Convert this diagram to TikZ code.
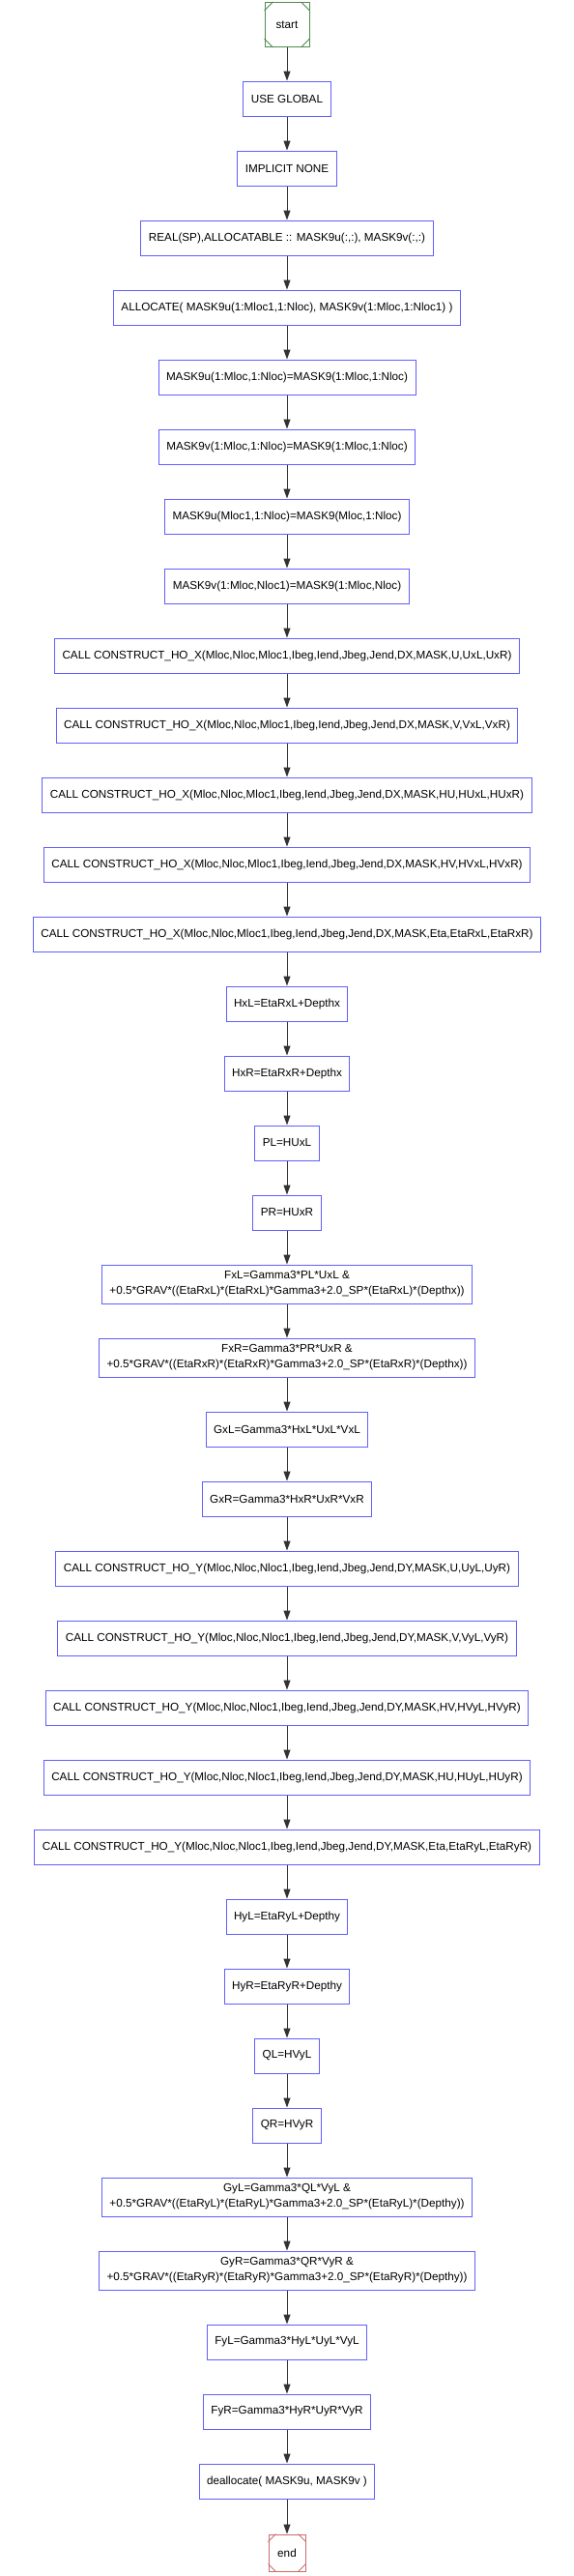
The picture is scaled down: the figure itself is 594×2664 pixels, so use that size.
\documentclass[tikz,border=0pt]{standalone}
\usepackage{fontspec}
\setmainfont{Liberation Sans}
\usetikzlibrary{calc,arrows.meta}
\definecolor{boxblue}{RGB}{96,96,255}
\definecolor{startgreen}{RGB}{80,140,80}
\definecolor{endred}{RGB}{200,110,110}
\definecolor{flowgray}{RGB}{50,50,50}
\tikzset{
	stmt/.style={draw=boxblue, line width=1pt, rectangle, minimum height=36, inner xsep=8pt, align=center},
	twoline/.style={stmt, minimum height=40},
	terminal/.style={rectangle, line width=1pt, inner sep=0pt, minimum size=#1},
	flow/.style={draw=flowgray, line width=1pt, -{Triangle[length=10pt,width=7pt]}}
}
\def\cornercuts#1#2#3{%
	\draw[#3, line width=0.8pt] ($(#1.north west)+(0,#2)$) -- ($(#1.north west)+(#2,0)$);
	\draw[#3, line width=0.8pt] ($(#1.north east)+(0,#2)$) -- ($(#1.north east)+(-#2,0)$);
	\draw[#3, line width=0.8pt] ($(#1.south west)+(0,-#2)$) -- ($(#1.south west)+(#2,0)$);
	\draw[#3, line width=0.8pt] ($(#1.south east)+(0,-#2)$) -- ($(#1.south east)+(-#2,0)$);
}

\begin{document}
\begin{tikzpicture}[x=1pt, y=-1pt, font=\fontsize{11.7}{16}\selectfont]
			%%%%% START %%%%%
			\useasboundingbox (0, 0) rectangle (594, 2664);
			
			\node[terminal=46, draw=startgreen] (start) at (297, 25.5) {start};
			\cornercuts{start}{9}{startgreen}
			
			\node[stmt] (useglobal) at (297, 102) {USE GLOBAL};
			\node[stmt] (implicit) at (297, 174) {IMPLICIT NONE};
			\node[stmt] (realsp) at (297, 246) {REAL(SP),ALLOCATABLE :: MASK9u(:,:), MASK9v(:,:)};
			\node[stmt] (alloc) at (297, 318) {ALLOCATE( MASK9u(1:Mloc1,1:Nloc), MASK9v(1:Mloc,1:Nloc1) )};
			\node[stmt] (maskua) at (297, 390) {MASK9u(1:Mloc,1:Nloc)=MASK9(1:Mloc,1:Nloc)};
			\node[stmt] (maskva) at (297, 462) {MASK9v(1:Mloc,1:Nloc)=MASK9(1:Mloc,1:Nloc)};
			\node[stmt] (maskub) at (297, 534) {MASK9u(Mloc1,1:Nloc)=MASK9(Mloc,1:Nloc)};
			\node[stmt] (maskvb) at (297, 606) {MASK9v(1:Mloc,Nloc1)=MASK9(1:Mloc,Nloc)};
			
			\node[stmt] (hoxu) at (297, 678) {CALL CONSTRUCT\_HO\_X(Mloc,Nloc,Mloc1,Ibeg,Iend,Jbeg,Jend,DX,MASK,U,UxL,UxR)};
			\node[stmt] (hoxv) at (297, 750) {CALL CONSTRUCT\_HO\_X(Mloc,Nloc,Mloc1,Ibeg,Iend,Jbeg,Jend,DX,MASK,V,VxL,VxR)};
			\node[stmt] (hoxhu) at (297, 822) {CALL CONSTRUCT\_HO\_X(Mloc,Nloc,Mloc1,Ibeg,Iend,Jbeg,Jend,DX,MASK,HU,HUxL,HUxR)};
			\node[stmt] (hoxhv) at (297, 894) {CALL CONSTRUCT\_HO\_X(Mloc,Nloc,Mloc1,Ibeg,Iend,Jbeg,Jend,DX,MASK,HV,HVxL,HVxR)};
			\node[stmt] (hoxeta) at (297, 966) {CALL CONSTRUCT\_HO\_X(Mloc,Nloc,Mloc1,Ibeg,Iend,Jbeg,Jend,DX,MASK,Eta,EtaRxL,EtaRxR)};
			
			\node[stmt] (hxl) at (297, 1038) {HxL=EtaRxL+Depthx};
			\node[stmt] (hxr) at (297, 1110) {HxR=EtaRxR+Depthx};
			\node[stmt] (pl) at (297, 1182) {PL=HUxL};
			\node[stmt] (pr) at (297, 1254) {PR=HUxR};
			\node[twoline] (fxl) at (297, 1328) {FxL=Gamma3*PL*UxL \&\\+0.5*GRAV*((EtaRxL)*(EtaRxL)*Gamma3+2.0\_SP*(EtaRxL)*(Depthx))};
			\node[twoline] (fxr) at (297, 1404) {FxR=Gamma3*PR*UxR \&\\+0.5*GRAV*((EtaRxR)*(EtaRxR)*Gamma3+2.0\_SP*(EtaRxR)*(Depthx))};
			\node[stmt] (gxl) at (297, 1478) {GxL=Gamma3*HxL*UxL*VxL};
			\node[stmt] (gxr) at (297, 1550) {GxR=Gamma3*HxR*UxR*VxR};
			
			\node[stmt] (hoyu) at (297, 1622) {CALL CONSTRUCT\_HO\_Y(Mloc,Nloc,Nloc1,Ibeg,Iend,Jbeg,Jend,DY,MASK,U,UyL,UyR)};
			\node[stmt] (hoyv) at (297, 1694) {CALL CONSTRUCT\_HO\_Y(Mloc,Nloc,Nloc1,Ibeg,Iend,Jbeg,Jend,DY,MASK,V,VyL,VyR)};
			\node[stmt] (hoyhv) at (297, 1766) {CALL CONSTRUCT\_HO\_Y(Mloc,Nloc,Nloc1,Ibeg,Iend,Jbeg,Jend,DY,MASK,HV,HVyL,HVyR)};
			\node[stmt] (hoyhu) at (297, 1838) {CALL CONSTRUCT\_HO\_Y(Mloc,Nloc,Nloc1,Ibeg,Iend,Jbeg,Jend,DY,MASK,HU,HUyL,HUyR)};
			\node[stmt] (hoyeta) at (297, 1910) {CALL CONSTRUCT\_HO\_Y(Mloc,Nloc,Nloc1,Ibeg,Iend,Jbeg,Jend,DY,MASK,Eta,EtaRyL,EtaRyR)};
			
			\node[stmt] (hyl) at (297, 1982) {HyL=EtaRyL+Depthy};
			\node[stmt] (hyr) at (297, 2054) {HyR=EtaRyR+Depthy};
			\node[stmt] (ql) at (297, 2126) {QL=HVyL};
			\node[stmt] (qr) at (297, 2198) {QR=HVyR};
			\node[twoline] (gyl) at (297, 2272) {GyL=Gamma3*QL*VyL \&\\+0.5*GRAV*((EtaRyL)*(EtaRyL)*Gamma3+2.0\_SP*(EtaRyL)*(Depthy))};
			\node[twoline] (gyr) at (297, 2348) {GyR=Gamma3*QR*VyR \&\\+0.5*GRAV*((EtaRyR)*(EtaRyR)*Gamma3+2.0\_SP*(EtaRyR)*(Depthy))};
			\node[stmt] (fyl) at (297, 2422) {FyL=Gamma3*HyL*UyL*VyL};
			\node[stmt] (fyr) at (297, 2494) {FyR=Gamma3*HyR*UyR*VyR};
			\node[stmt] (dealloc) at (297, 2566) {deallocate( MASK9u, MASK9v )};
			
			\node[terminal=38, draw=endred] (end) at (297, 2640) {end};
			\cornercuts{end}{8}{endred}
			
			\draw[flow] (start) -- (useglobal);
			\draw[flow] (useglobal) -- (implicit);
			\draw[flow] (implicit) -- (realsp);
			\draw[flow] (realsp) -- (alloc);
			\draw[flow] (alloc) -- (maskua);
			\draw[flow] (maskua) -- (maskva);
			\draw[flow] (maskva) -- (maskub);
			\draw[flow] (maskub) -- (maskvb);
			\draw[flow] (maskvb) -- (hoxu);
			\draw[flow] (hoxu) -- (hoxv);
			\draw[flow] (hoxv) -- (hoxhu);
			\draw[flow] (hoxhu) -- (hoxhv);
			\draw[flow] (hoxhv) -- (hoxeta);
			\draw[flow] (hoxeta) -- (hxl);
			\draw[flow] (hxl) -- (hxr);
			\draw[flow] (hxr) -- (pl);
			\draw[flow] (pl) -- (pr);
			\draw[flow] (pr) -- (fxl);
			\draw[flow] (fxl) -- (fxr);
			\draw[flow] (fxr) -- (gxl);
			\draw[flow] (gxl) -- (gxr);
			\draw[flow] (gxr) -- (hoyu);
			\draw[flow] (hoyu) -- (hoyv);
			\draw[flow] (hoyv) -- (hoyhv);
			\draw[flow] (hoyhv) -- (hoyhu);
			\draw[flow] (hoyhu) -- (hoyeta);
			\draw[flow] (hoyeta) -- (hyl);
			\draw[flow] (hyl) -- (hyr);
			\draw[flow] (hyr) -- (ql);
			\draw[flow] (ql) -- (qr);
			\draw[flow] (qr) -- (gyl);
			\draw[flow] (gyl) -- (gyr);
			\draw[flow] (gyr) -- (fyl);
			\draw[flow] (fyl) -- (fyr);
			\draw[flow] (fyr) -- (dealloc);
			\draw[flow] (dealloc) -- (end);
			
			%%%%% END %%%%%
\end{tikzpicture}
\end{document}
